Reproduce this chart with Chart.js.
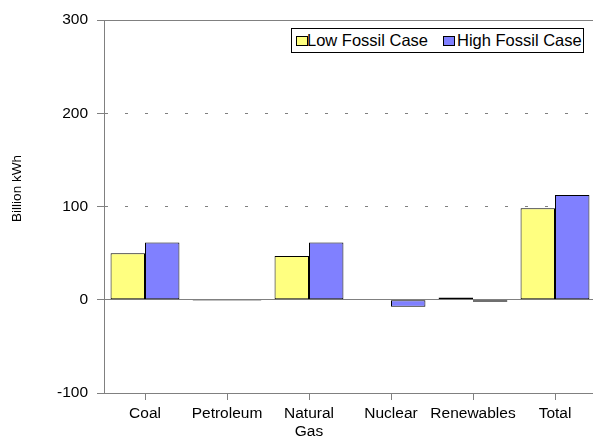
<!DOCTYPE html>
<html>
<head>
<meta charset="utf-8">
<script src="https://cdn.jsdelivr.net/npm/chart.js@4.4.1/dist/chart.umd.min.js"></script>
<style>
  html, body { margin: 0; padding: 0; background: #fff; overflow: hidden; }
  #wrap { position: relative; width: 600px; height: 439px; }
  #legend {
    position: absolute; left: 291px; top: 28px; width: 291px; height: 23px;
    border: 1px solid #000; background: #fff;
    font: 16.5px "Liberation Sans", Arial, sans-serif; color: #000;
    white-space: nowrap;
  }
  #legend .sw { position: absolute; top: 7px; width: 10px; height: 8px; border: 1px solid #000; }
  #legend .txt { position: absolute; top: 2px; line-height: 19px; }
</style>
</head>
<body>
<div id="wrap">
  <canvas id="chart" width="600" height="439"></canvas>
  <div id="legend"></div>
</div>
<script>
const categories = ['Coal', 'Petroleum', ['Natural', 'Gas'], 'Nuclear', 'Renewables', 'Total'];
const lowFossil = [50, -1, 46.8, 0, 2.5, 98.2];
const highFossil = [61.4, -1, 61.4, -7.5, -2.2, 112.2];
const seriesNames = ['Low Fossil Case', 'High Fossil Case'];
const seriesColors = ['#ffff80', '#8080ff'];
const yTicks = [-100, 0, 100, 200, 300];
const yTitle = 'Billion kWh';

const gray = '#808080';
const fontFamily = '"Liberation Sans", Arial, sans-serif';

// legend box sits inside the plot, top right
const legendEl = document.getElementById('legend');
const legendOffsets = [[4, 15], [151, 165]];
seriesNames.forEach((name, i) => {
  const sw = document.createElement('div');
  sw.className = 'sw';
  sw.style.left = legendOffsets[i][0] + 'px';
  sw.style.background = seriesColors[i];
  const txt = document.createElement('div');
  txt.className = 'txt';
  txt.style.left = legendOffsets[i][1] + 'px';
  txt.textContent = name;
  legendEl.appendChild(sw);
  legendEl.appendChild(txt);
});

const yTitlePlugin = {
  id: 'yTitle',
  afterDraw(chart) {
    const { ctx } = chart;
    ctx.save();
    ctx.translate(17.5, 188.5);
    ctx.rotate(-Math.PI / 2);
    ctx.font = '13.5px ' + fontFamily;
    ctx.fillStyle = '#000';
    ctx.textAlign = 'center';
    ctx.textBaseline = 'middle';
    ctx.fillText(yTitle, 0, 0);
    ctx.restore();
  }
};

const isDashed = v => v === 100 || v === 200;

new Chart(document.getElementById('chart'), {
  type: 'bar',
  data: {
    labels: categories,
    datasets: [
      {
        label: seriesNames[0],
        data: lowFossil,
        backgroundColor: seriesColors[0],
        borderColor: '#000',
        borderWidth: 1,
        borderSkipped: false
      },
      {
        label: seriesNames[1],
        data: highFossil,
        backgroundColor: seriesColors[1],
        borderColor: '#000',
        borderWidth: 1,
        borderSkipped: false
      }
    ]
  },
  options: {
    responsive: false,
    animation: false,
    categoryPercentage: 0.84,
    barPercentage: 1.0,
    layout: { padding: { top: 20, right: 4, left: 0, bottom: 0 } },
    plugins: {
      legend: { display: false },
      tooltip: { enabled: false }
    },
    scales: {
      x: {
        grid: {
          display: true,
          drawOnChartArea: false,
          drawTicks: true,
          tickLength: 7,
          offset: false,
          tickColor: gray,
          color: gray
        },
        border: { display: true, color: gray },
        ticks: {
          color: '#000',
          padding: 4,
          maxRotation: 0,
          autoSkip: false,
          font: { family: fontFamily, size: 15.5, lineHeight: 1.2 }
        },
        afterFit(scale) { scale.height = 46; }
      },
      y: {
        min: -100,
        max: 300,
        afterBuildTicks(scale) {
          scale.ticks = yTicks.map(v => ({ value: v }));
        },
        grid: {
          color: gray,
          tickColor: gray,
          tickLength: 7,
          lineWidth: 1
        },
        border: {
          display: true,
          color: gray,
          dash: ctx => (ctx.tick && isDashed(ctx.tick.value)) ? [3, 17] : []
        },
        ticks: {
          color: '#000',
          padding: 9,
          font: { family: fontFamily, size: 15.5 }
        },
        afterFit(scale) { scale.width = 104; }
      }
    }
  },
  plugins: [yTitlePlugin]
});
</script>
</body>
</html>
